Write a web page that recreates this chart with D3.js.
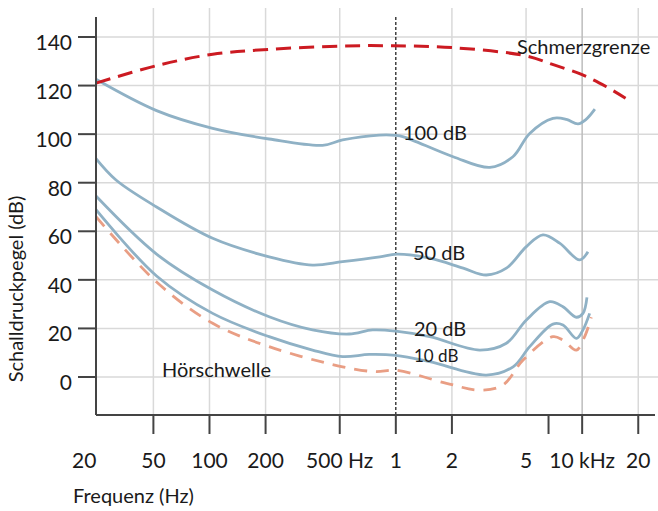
<!DOCTYPE html>
<html>
<head>
<meta charset="utf-8">
<script src="https://cdn.jsdelivr.net/npm/d3@7"></script>
<style>
  body { margin: 0; background: #fff; }
  svg { display: block; font-family: Lato, "Noto Sans", sans-serif; }
  .grid line { stroke: #d9d9d9; stroke-width: 1.5; }
  .axis path, .axis line { stroke: #444; stroke-width: 2; }
  .axis text { fill: #1a1a1a; font-size: 21px; font-family: Lato, sans-serif; }
  .lbl { fill: #1a1a1a; font-size: 20px; }
</style>
</head>
<body>
<div id="chart"></div>
<script>
// frequencies in Hz, levels in dB
const dbTicks = [0, 20, 40, 60, 80, 100, 120, 140]
const gridFreqs = [50, 100, 200, 500, 2000, 5000, 10000, 20000]
const tickFreqs = [50, 100, 200, 500, 1000, 2000, 6600, 10000, 20000]
const labelFreqs = [20, 50, 100, 200, 500, 1000, 2000, 5000, 10000, 20000]
const labelTexts = ['20', '50', '100', '200', '500 Hz', '1', '2', '5', '10 kHz', '20']

const painThreshold = [[24.6, 121], [52, 128.2], [104, 132.9], [209, 134.9], [518, 136.3], [960, 136.4],
  [2040, 135.6], [5020, 132.2], [7000, 128.6], [10060, 124.4], [13500, 119.5], [17100, 114.8]]
const curve100 = [[24.6, 122.6], [52, 109.7], [104, 102.4], [209, 98], [404, 95.4], [518, 97.6],
  [814, 99.6], [1000, 99.5], [1100, 98.9], [2030, 90.7], [3200, 86.3], [4250, 90.7], [5230, 100.3],
  [6970, 106.5], [8230, 106.1], [9500, 104.2], [10500, 106.1], [11700, 110.3]]
const curve50 = [[24.6, 89.9], [31.5, 81.1], [52, 70], [104, 57.1], [209, 49.5], [357, 46.1], [518, 47.5],
  [821, 49.5], [1010, 50.6], [1520, 48.9], [2300, 44.8], [3060, 42], [3920, 44.8], [5020, 53.7],
  [6160, 58.5], [7570, 55.1], [9700, 48.2], [10740, 51.6]]
const curve20 = [[24.6, 74.5], [52, 50.6], [104, 35.8], [209, 24.8], [357, 19.4], [562, 17.7], [750, 19.4],
  [1000, 18.9], [1520, 16.6], [2820, 11.1], [3920, 13.9], [5020, 23.5], [6700, 31], [7890, 28.9],
  [9310, 24.6], [10100, 26.2], [10610, 32.8]]
const curve10 = [[24.6, 68.9], [52, 41.6], [104, 26.2], [209, 16.6], [357, 11.1], [518, 8.4], [720, 9.3],
  [1000, 8.9], [1520, 6.3], [3060, 0.8], [4260, 4.2], [5230, 12.5], [6970, 21.8], [7890, 21.4],
  [9310, 15.9], [10100, 19.4], [10970, 26.2]]
const hearingThreshold = [[24.6, 66], [52, 39.1], [104, 22.1], [209, 12.5], [518, 4.2], [780, 2.2],
  [1000, 2.8], [1870, -2.6], [2820, -5.4], [3760, -3.3], [4820, 7], [6970, 16.6], [7890, 15.2],
  [9310, 11.1], [10310, 16.6], [11200, 24.6]]

const width = 658
const height = 511

const x = d3.scaleLog().domain([24.6, 24600]).range([96, 655])
const y = d3.scaleLinear().domain([0, 140]).range([377, 37])
const yBottom = -15.65
const yTop = 148.2

const svg = d3.select('#chart').append('svg')
  .attr('width', width)
  .attr('height', height)

// grid
const grid = svg.append('g').attr('class', 'grid')
grid.selectAll('.h')
  .data(dbTicks)
  .enter().append('line')
  .attr('x1', x.range()[0]).attr('x2', width)
  .attr('y1', d => y(d)).attr('y2', d => y(d))
grid.selectAll('.v')
  .data(gridFreqs)
  .enter().append('line')
  .attr('x1', d => x(d)).attr('x2', d => x(d))
  .attr('y1', 8).attr('y2', y(yBottom))
  .style('stroke', d => d === 10000 ? '#bdbdbd' : null)

// 1 kHz marker
svg.append('line')
  .attr('x1', x(1000)).attr('x2', x(1000))
  .attr('y1', y(yTop)).attr('y2', y(yBottom))
  .attr('stroke', '#111')
  .attr('stroke-width', 1.2)
  .attr('stroke-dasharray', '3,2')

// curves
const line = d3.line()
  .x(d => x(d[0]))
  .y(d => y(d[1]))
  .curve(d3.curveCatmullRom.alpha(0.5))

const series = [
  { data: curve100, color: '#8fb1c5', dash: null, w: 2.8 },
  { data: curve50, color: '#8fb1c5', dash: null, w: 2.8 },
  { data: curve20, color: '#8fb1c5', dash: null, w: 2.8 },
  { data: curve10, color: '#8fb1c5', dash: null, w: 2.8 },
  { data: hearingThreshold, color: '#e99e84', dash: '13,9', w: 2.8 },
  { data: painThreshold, color: '#cc1b22', dash: '15,8', w: 3 }
]

svg.selectAll('.curve')
  .data(series)
  .enter().append('path')
  .attr('class', 'curve')
  .attr('d', d => line(d.data))
  .attr('fill', 'none')
  .attr('stroke', d => d.color)
  .attr('stroke-width', d => d.w)
  .attr('stroke-dasharray', d => d.dash)

// y axis
const yAxisGroup = svg.append('g')
  .attr('class', 'axis')
  .attr('transform', `translate(${x.range()[0]},0)`)
yAxisGroup.append('line')
  .attr('y1', y(yTop)).attr('y2', y(yBottom))
yAxisGroup.selectAll('.tick')
  .data(dbTicks)
  .enter().append('g')
  .attr('class', 'tick')
  .attr('transform', d => `translate(0,${y(d)})`)
  .each(function (d) {
    const g = d3.select(this)
    g.append('line').attr('x1', -18).attr('x2', 0)
    g.append('text')
      .attr('x', -24)
      .attr('y', 13)
      .attr('text-anchor', 'end')
      .text(d)
  })

// x axis
const xAxisGroup = svg.append('g')
  .attr('class', 'axis')
  .attr('transform', `translate(0,${y(yBottom)})`)
xAxisGroup.append('line')
  .attr('x1', x.range()[0]).attr('x2', x.range()[1])
xAxisGroup.selectAll('.tick')
  .data(tickFreqs)
  .enter().append('line')
  .attr('class', 'tick')
  .attr('x1', d => x(d)).attr('x2', d => x(d))
  .attr('y1', 0).attr('y2', 19)
xAxisGroup.selectAll('text')
  .data(labelFreqs)
  .enter().append('text')
  .attr('x', d => d === 20 ? x(d) + 5 : x(d))
  .attr('y', 53)
  .attr('text-anchor', 'middle')
  .text((d, i) => labelTexts[i])

// axis titles
svg.append('text')
  .attr('class', 'lbl')
  .attr('x', 73).attr('y', 503)
  .text('Frequenz (Hz)')
svg.append('text')
  .attr('class', 'lbl')
  .attr('transform', 'translate(23,289) rotate(-90)')
  .attr('text-anchor', 'middle')
  .text('Schalldruckpegel (dB)')

// curve labels
svg.append('text').attr('class', 'lbl').attr('x', 517).attr('y', 54).text('Schmerzgrenze')
svg.append('text').attr('class', 'lbl').attr('x', 403).attr('y', 140).text('100 dB')
svg.append('text').attr('class', 'lbl').attr('x', 413).attr('y', 260).text('50 dB')
svg.append('text').attr('class', 'lbl').attr('x', 414).attr('y', 336).text('20 dB')
svg.append('text').attr('class', 'lbl').attr('x', 414).attr('y', 362).style('font-size', '17px').text('10 dB')
svg.append('text').attr('class', 'lbl').attr('x', 162).attr('y', 377).text('Hörschwelle')
</script>
</body>
</html>
